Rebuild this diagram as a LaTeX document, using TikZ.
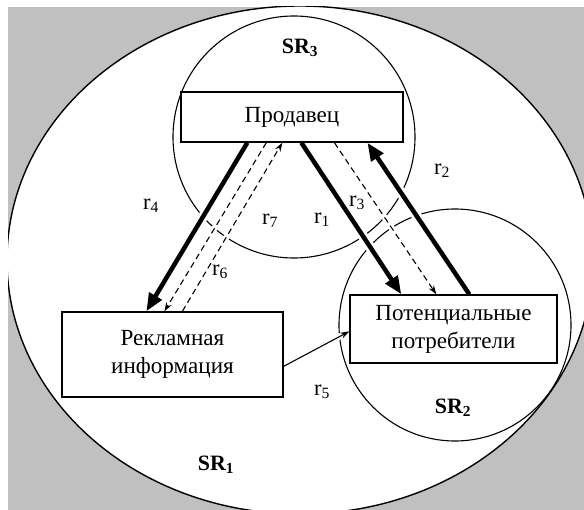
\documentclass[tikz,border=0pt]{standalone}
\usepackage{fontspec}
\setmainfont{Liberation Serif}
\usetikzlibrary{arrows.meta,calc}
\definecolor{bggray}{RGB}{192,192,192}
\begin{document}
\begin{tikzpicture}[x=1bp,y=-1bp,
  box/.style={draw,line width=1.3bp,fill=white,inner sep=0pt,align=center,
    font=\fontsize{23.2}{28}\selectfont},
  lbl/.style={font=\fontsize{22.5}{26}\selectfont,inner sep=0pt},
  srl/.style={font=\fontsize{22}{26}\selectfont\bfseries,inner sep=0pt},
  region/.style={line width=1.1bp},
  bigarrow/.style={line width=4.5bp,-{Triangle[length=18bp,width=14bp]},
    preaction={draw=white,line width=10bp,-,shorten >=5bp,shorten <=5bp}},
  dasharrow/.style={line width=1.1bp,dash pattern=on 6bp off 4bp,
    -{Stealth[length=9bp,width=6bp]},
    preaction={draw=white,solid,line width=6bp,-,shorten >=5bp,shorten <=5bp}},
  thinarrow/.style={line width=1.1bp,-{Stealth[length=9bp,width=6bp]},
    preaction={draw=white,line width=6bp,-,shorten >=5bp,shorten <=5bp}}
]
\useasboundingbox (0,0) rectangle (584,510);
\fill[white] (0,0) rectangle (584,510);
\fill[bggray] (8,7) rectangle (584,510);
\begin{scope}
  \clip (8,7) rectangle (584,510);
  \draw[fill=white,line width=1.4bp] (300,260) ellipse [x radius=293, y radius=254];
\end{scope}
% regions
\draw[region] (294,137) circle [x radius=121, y radius=121];
\draw[region] (455,325) circle [x radius=116, y radius=116];
% boxes
\node[box,minimum width=222bp,minimum height=50bp] (prod) at (292,117) {Продавец};
\node[box,minimum width=221bp,minimum height=85bp] (rekl) at (172.5,354.5) {Рекламная\\информация};
\node[box,minimum width=207bp,minimum height=68bp] (pot) at (453.5,329) {Потенциальные\\потребители};
% connectors
\draw[bigarrow] ($(prod.south west)+(67,0)$) -- ($(rekl.north west)+(85,0)$);
\draw[dasharrow] ($(prod.south west)+(86,0)$) -- ($(rekl.north west)+(103,0)$);
\draw[dasharrow] ($(rekl.north west)+(121,0)$) -- ($(prod.south west)+(102,0)$);
\draw[bigarrow] ($(prod.south west)+(121,0)$) -- ($(pot.north west)+(52,0)$);
\draw[dasharrow] ($(prod.south west)+(154,0)$) -- ($(pot.north west)+(87,0)$);
\draw[bigarrow] ($(pot.north west)+(120,0)$) -- ($(prod.south west)+(187,0)$);
\draw[thinarrow] ($(rekl.north east)+(0,55)$) -- ($(pot.north west)+(0,37)$);
% labels
\node[srl] (sr3) at (300,48) {SR\textsubscript{3}};
\node[srl] (sr2) at (453,408) {SR\textsubscript{2}};
\node[srl] (sr1) at (216,465) {SR\textsubscript{1}};
\node[lbl] (l2) at (442,171) {r\textsubscript{2}};
\node[lbl] (l4) at (151,206) {r\textsubscript{4}};
\node[lbl] (l7) at (270,221) {r\textsubscript{7}};
\node[lbl] (l1) at (322,220) {r\textsubscript{1}};
\node[lbl] (l3) at (357,203) {r\textsubscript{3}};
\node[lbl] (l6) at (220,272) {r\textsubscript{6}};
\node[lbl] (l5) at (322,392) {r\textsubscript{5}};
\end{tikzpicture}
\end{document}
